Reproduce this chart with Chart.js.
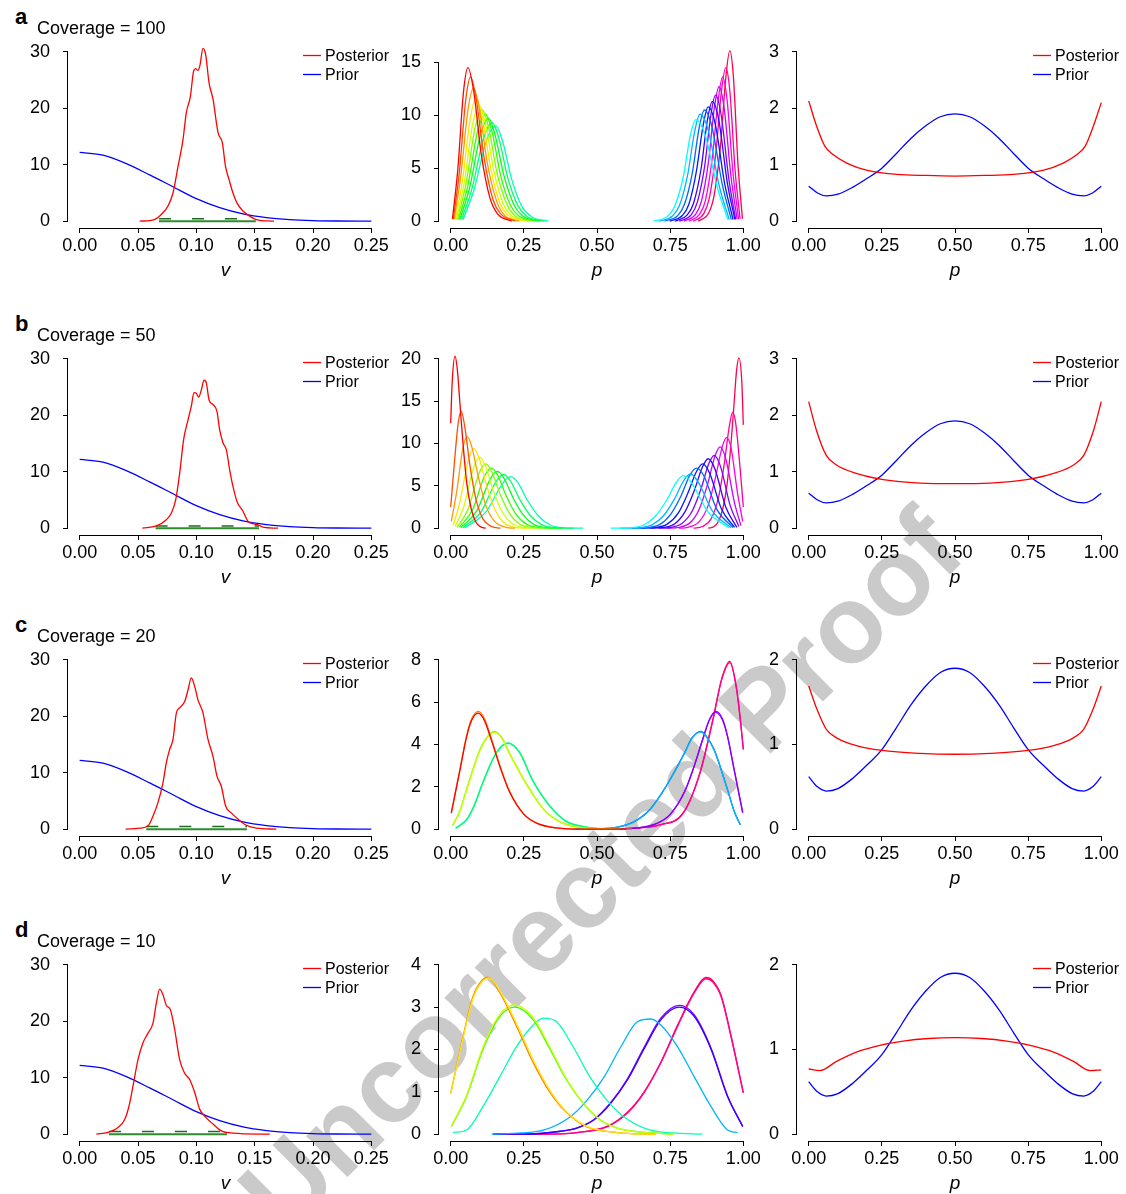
<!DOCTYPE html>
<html>
<head>
<meta charset="utf-8">
<script src="https://cdn.jsdelivr.net/npm/chart.js@4.4.1/dist/chart.umd.min.js"></script>
<style>
  html, body { margin: 0; background: #fff; }
  #fig { position: relative; width: 1126px; height: 1194px; overflow: hidden; font-family: "Liberation Sans", Arial, sans-serif; color: #000; }
  #fig canvas { position: absolute; z-index: 1; }
  .txt { position: absolute; z-index: 2; white-space: nowrap; }
  .letter { font-weight: bold; font-size: 22px; line-height: 22px; }
  .cov { font-size: 18px; line-height: 22px; }
  .lgt { font-size: 16px; line-height: 20px; }
  #proof { position: absolute; z-index: 0; left: 600px; top: 870px; transform: translate(-50%, -50%) rotate(-45deg);
           font: bold 110px "Liberation Sans", Arial, sans-serif; color: #cacaca; white-space: nowrap; }
</style>
</head>
<body>
<div id="fig"><div id="proof">Uncorrected Proof</div></div>
<script>
// ---- DATA ----
const letters = ['a', 'b', 'c', 'd'];
const coverages = [100, 50, 20, 10];
const seriesNames = ['Posterior', 'Prior'];

const vTicks = [0, 0.05, 0.1, 0.15, 0.2, 0.25];
const pTicks = [0, 0.25, 0.5, 0.75, 1];
const yTicksLeft = [0, 10, 20, 30];
const yTicksMid = [[0, 5, 10, 15], [0, 5, 10, 15, 20], [0, 2, 4, 6, 8], [0, 1, 2, 3, 4]];
const yTicksRight = [[0, 1, 2, 3], [0, 1, 2, 3], [0, 1, 2], [0, 1, 2]];
const yTopLeft = [30, 30, 30, 30];
const yTopMid = [16, 20, 8, 4];
const yTopRight = [3, 3, 2, 2];

// prior on v (same in every row)
const priorV = [[0,12.2],[.02,11.7],[.04,10.2],[.06,8.2],[.08,6.1],[.1,4.0],[.12,2.4],[.14,1.3],[.16,.65],[.18,.3],[.2,.12],[.22,.04],[.25,.01]];

// posterior on v, one per coverage
const postV_a = [[.0514,0],[.064,.3],[.0714,1.5],[.0757,2.7],[.08,5.0],[.0843,9.7],[.0886,14.5],[.0914,19.2],[.0949,22.1],[.0977,26.6],[.0994,27.0],[.1014,26.7],[.103,27.5],[.1057,30.6],[.108,29.5],[.1109,24.5],[.1143,21.6],[.1186,15.7],[.1223,13.9],[.125,9.7],[.128,7.4],[.1314,5.0],[.1349,3.2],[.14,1.8],[.1457,.9],[.1514,.3],[.1666,0]];
const postV_b = [[.0537,0],[.0657,.4],[.0743,1.5],[.0786,2.7],[.0823,5.0],[.0857,9.7],[.0891,15.7],[.0929,19.2],[.0957,21.6],[.098,24.0],[.1,23.9],[.102,23.2],[.1043,24.5],[.1066,26.2],[.1086,25.7],[.1109,22.7],[.1143,21.9],[.1177,20.7],[.12,17.4],[.1229,15.1],[.1257,13.9],[.1286,10.3],[.1314,7.4],[.1349,4.7],[.14,3.0],[.1443,1.2],[.1486,.8],[.1529,.6],[.157,.2],[.17,0]];
const postV_c = [[.0394,0],[.0514,.18],[.0586,.6],[.0629,2.35],[.0671,4.7],[.0714,8.2],[.0743,11.8],[.0771,14.1],[.08,15.9],[.0829,20.6],[.0857,21.5],[.09,22.6],[.0929,24.7],[.0957,26.8],[.0986,25.3],[.1014,22.9],[.1057,20.6],[.11,15.9],[.1143,12.9],[.1177,9.4],[.1214,7.6],[.1251,4.1],[.13,2.9],[.1357,1.8],[.1429,.7],[.1514,.2],[.1686,0]];
const postV_d = [[.0143,0],[.0257,.4],[.0329,1.2],[.0386,2.6],[.0423,5.0],[.0457,8.5],[.05,13.2],[.0543,16.2],[.0586,17.9],[.0629,19.7],[.0657,23.2],[.0686,25.7],[.0714,24.7],[.0743,22.8],[.0777,22.1],[.0814,18.6],[.0857,13.2],[.09,10.8],[.0943,9.7],[.0986,7.4],[.1029,4.4],[.1086,2.9],[.1143,1.8],[.1214,.6],[.1314,.2],[.163,0]];

// credible interval on v (ends) and height of the dashed bar
const intervalV = [[.068, .151], [.0651, .1537], [.0571, .1434], [.0251, .1263]];
const dashY = [.45, .4, .5, .5];

// prior on p (same in every row)
const priorP = [[0,.62],[.03,.5],[.06,.45],[.1,.48],[.15,.6],[.2,.76],[.25,.94],[.3,1.2],[.35,1.47],[.4,1.69],[.45,1.85],[.5,1.9],[.55,1.85],[.6,1.69],[.65,1.47],[.7,1.2],[.75,.94],[.8,.76],[.85,.6],[.9,.48],[.94,.45],[.97,.5],[1,.62]];

// posterior on p, one per coverage
const postP_a = [[0,2.13],[.026,1.7],[.055,1.33],[.083,1.18],[.13,1.03],[.2,.9],[.3,.83],[.4,.81],[.5,.8],[.6,.81],[.7,.83],[.8,.9],[.87,1.03],[.917,1.18],[.945,1.33],[.974,1.7],[1,2.1]];
const postP_b = [[0,2.24],[.026,1.74],[.06,1.29],[.095,1.12],[.163,.97],[.255,.86],[.38,.8],[.5,.79],[.62,.8],[.745,.86],[.837,.97],[.905,1.12],[.94,1.29],[.974,1.74],[1,2.24]];
const postP_c = [[0,1.69],[.03,1.4],[.06,1.18],[.1,1.07],[.16,.99],[.25,.93],[.38,.895],[.5,.885],[.62,.895],[.75,.93],[.84,.99],[.9,1.07],[.94,1.18],[.97,1.4],[1,1.69]];
const postP_d = [[0,.77],[.038,.75],[.095,.86],[.163,.97],[.243,1.05],[.323,1.1],[.41,1.13],[.5,1.14],[.59,1.13],[.677,1.1],[.757,1.05],[.837,.97],[.905,.86],[.962,.75],[1,.76]];

// per-locus posteriors of p, coverage 100
const lociA = [
  [[.006,.22],[.024,4.8],[.044,12.3],[.059,14.5],[.079,12.2],[.104,6.4],[.134,2.2],[.16,.7],[.209,0]],
  [[.009,.2],[.029,4.5],[.052,11.6],[.068,13.6],[.088,11.4],[.114,6.0],[.145,2.0],[.171,.7],[.221,0]],
  [[.012,.19],[.034,4.2],[.06,10.7],[.078,12.6],[.098,10.6],[.125,5.5],[.157,1.9],[.183,.6],[.235,0]],
  [[.016,.17],[.04,3.8],[.068,9.9],[.088,11.6],[.109,9.7],[.136,5.1],[.168,1.7],[.195,.6],[.248,0]],
  [[.019,.16],[.046,3.6],[.076,9.3],[.098,10.9],[.119,9.2],[.147,4.8],[.18,1.6],[.207,.55],[.261,0]],
  [[.023,.16],[.052,3.5],[.084,8.9],[.108,10.5],[.13,8.8],[.158,4.6],[.192,1.6],[.22,.5],[.275,0]],
  [[.027,.15],[.058,3.3],[.093,8.6],[.119,10.1],[.141,8.5],[.17,4.4],[.204,1.5],[.233,.5],[.289,0]],
  [[.031,.15],[.065,3.2],[.102,8.2],[.13,9.7],[.152,8.1],[.182,4.3],[.217,1.5],[.246,.5],[.303,0]],
  [[.037,.14],[.073,3.1],[.113,7.9],[.142,9.3],[.165,7.8],[.195,4.1],[.231,1.4],[.261,.45],[.319,0]],
  [[.042,.14],[.08,3.0],[.123,7.7],[.154,9.0],[.177,7.6],[.208,4.0],[.244,1.35],[.275,.45],[.334,0]],
  [[.694,0],[.742,.48],[.766,1.44],[.795,4.2],[.819,8.1],[.838,9.6],[.869,8.2],[.911,3.2],[.948,.14]],
  [[.712,0],[.758,.5],[.782,1.5],[.81,4.4],[.834,8.5],[.852,10.1],[.88,8.6],[.918,3.3],[.952,.15]],
  [[.731,0],[.776,.53],[.799,1.6],[.826,4.6],[.849,8.8],[.867,10.5],[.893,8.9],[.928,3.5],[.959,.16]],
  [[.748,0],[.792,.54],[.814,1.6],[.84,4.75],[.863,9.1],[.88,10.8],[.904,9.2],[.936,3.6],[.965,.16]],
  [[.766,0],[.808,.57],[.83,1.7],[.856,5.0],[.877,9.5],[.894,11.3],[.916,9.6],[.945,3.7],[.971,.17]],
  [[.781,0],[.822,.6],[.843,1.8],[.868,5.2],[.889,10.0],[.905,11.9],[.924,10.1],[.951,3.9],[.974,.18]],
  [[.797,0],[.837,.64],[.857,1.9],[.881,5.6],[.901,10.7],[.917,12.7],[.934,10.8],[.958,4.2],[.979,.19]],
  [[.813,0],[.851,.68],[.871,2.0],[.894,6.0],[.914,11.4],[.929,13.6],[.944,11.6],[.965,4.5],[.984,.2]],
  [[.828,0],[.865,.72],[.884,2.2],[.906,6.4],[.925,12.2],[.94,14.5],[.954,12.3],[.972,4.8],[.989,.22]],
  [[.846,0],[.882,.8],[.9,2.4],[.922,7.1],[.94,13.5],[.954,16.1],[.966,13.7],[.982,5.3],[.997,.24]]
];

// coverage 50
const lociB = [
  [[0,12.4],[.005,17.2],[.015,20.3],[.023,18.6],[.032,14.5],[.042,10],[.055,5.3],[.07,2.3],[.085,.8],[.1,.2],[.12,0]],
  [[0,2.5],[.012,7.5],[.026,12.5],[.036,13.8],[.048,12],[.065,7.6],[.085,3.6],[.11,1.1],[.14,.2],[.17,0]],
  [[.002,.8],[.02,4.2],[.042,9.5],[.057,10.8],[.072,9.6],[.095,6],[.12,2.7],[.15,.8],[.19,.1],[.22,0]],
  [[.008,.3],[.03,2.9],[.06,8],[.079,9.4],[.097,8.3],[.122,5.1],[.15,2.3],[.18,.7],[.22,.1],[.26,0]],
  [[.015,.2],[.045,2.6],[.078,7.1],[.099,8.4],[.118,7.4],[.145,4.5],[.175,2],[.21,.55],[.25,.08],[.29,0]],
  [[.022,.1],[.06,2.3],[.097,6.5],[.12,7.6],[.14,6.7],[.168,4.1],[.2,1.8],[.235,.5],[.28,.07],[.32,0]],
  [[.03,.1],[.075,2.2],[.115,6.1],[.139,7.1],[.16,6.3],[.19,3.8],[.222,1.7],[.26,.45],[.305,.06],[.35,0]],
  [[.035,.08],[.09,2.1],[.135,5.8],[.16,6.7],[.182,5.9],[.213,3.6],[.247,1.6],[.285,.42],[.33,.05],[.38,0]],
  [[.042,.06],[.105,2],[.155,5.5],[.181,6.35],[.204,5.6],[.236,3.4],[.272,1.5],[.312,.4],[.36,.05],[.42,0]],
  [[.048,.05],[.12,1.9],[.178,5.3],[.205,6.1],[.229,5.4],[.262,3.3],[.3,1.45],[.34,.38],[.39,.05],[.453,0]],
  [[.547,0],[.61,.05],[.66,.38],[.7,1.45],[.738,3.3],[.771,5.4],[.795,6.2],[.822,5.4],[.88,1.9],[.952,.05]],
  [[.58,0],[.64,.05],[.688,.4],[.728,1.5],[.764,3.4],[.796,5.6],[.819,6.4],[.845,5.5],[.895,2],[.958,.06]],
  [[.62,0],[.67,.05],[.715,.45],[.753,1.7],[.787,3.8],[.818,6.3],[.84,7.1],[.865,6.2],[.91,2.2],[.965,.08]],
  [[.65,0],[.695,.06],[.74,.48],[.778,1.8],[.81,4.1],[.84,6.7],[.861,7.6],[.885,6.5],[.925,2.3],[.97,.1]],
  [[.68,0],[.72,.07],[.765,.5],[.8,1.9],[.832,4.4],[.86,7.2],[.88,8.2],[.903,7],[.94,2.5],[.978,.1]],
  [[.71,0],[.75,.08],[.79,.55],[.825,2],[.855,4.6],[.882,7.6],[.901,8.6],[.922,7.3],[.955,2.7],[.985,.2]],
  [[.74,0],[.78,.1],[.82,.7],[.85,2.3],[.878,5.2],[.903,8.5],[.921,9.6],[.94,8.2],[.97,3],[.992,.3]],
  [[.78,0],[.81,.1],[.85,.8],[.88,2.7],[.905,6],[.928,9.6],[.943,10.7],[.958,9.5],[.98,4.2],[.998,.8]],
  [[.83,0],[.86,.2],[.89,1.1],[.915,3.6],[.935,7.6],[.952,12],[.964,13.7],[.974,12.4],[.988,7.5],[1,2.5]],
  [[.88,0],[.9,.2],[.915,.8],[.93,2.3],[.945,5.3],[.958,10],[.968,14.5],[.977,18.6],[.985,20.1],[.995,17.2],[1,12.2]]
];

// coverage 20 (loci overlap in groups)
const lociC = [
  [[.002,.76],[.031,2.74],[.054,4.34],[.071,5.12],[.094,5.48],[.115,5.14],[.14,4.16],[.17,2.88],[.2,1.79],[.25,.7],[.3,.25],[.36,.06],[.45,0],[.6,0]],
  [[.002,.79],[.031,2.8],[.054,4.4],[.071,5.2],[.095,5.56],[.116,5.2],[.141,4.2],[.171,2.9],[.201,1.8],[.251,.7],[.3,.25],[.36,.06],[.45,0],[.62,0]],
  [[.006,.16],[.03,.78],[.054,1.82],[.1,3.72],[.128,4.37],[.15,4.57],[.175,4.28],[.2,3.58],[.26,2.08],[.32,.89],[.373,.35],[.43,.1],[.5,.02],[.56,0]],
  [[.006,.17],[.03,.82],[.054,1.88],[.1,3.78],[.128,4.42],[.15,4.62],[.175,4.32],[.2,3.62],[.26,2.12],[.32,.91],[.373,.36],[.43,.1],[.5,.02],[.58,0]],
  [[.017,.05],[.054,.44],[.08,1.1],[.11,2.2],[.156,3.6],[.196,4.06],[.236,3.6],[.28,2.3],[.34,1.07],[.396,.36],[.464,.1],[.52,.02],[.58,0]],
  [[.017,.05],[.054,.45],[.08,1.12],[.11,2.22],[.156,3.62],[.196,4.08],[.236,3.62],[.28,2.32],[.34,1.08],[.396,.37],[.464,.1],[.52,.02],[.57,0]],
  [[.42,0],[.5,.02],[.57,.1],[.627,.35],[.68,.9],[.74,2.1],[.8,3.6],[.825,4.3],[.855,4.6],[.872,4.4],[.9,3.75],[.946,1.86],[.97,.8],[.99,.2]],
  [[.43,0],[.5,.02],[.57,.1],[.627,.36],[.68,.92],[.74,2.12],[.8,3.63],[.825,4.32],[.855,4.62],[.872,4.42],[.9,3.77],[.946,1.87],[.97,.81],[.99,.21]],
  [[.43,0],[.55,0],[.64,.06],[.7,.25],[.75,.7],[.8,1.8],[.83,2.9],[.86,4.2],[.885,5.2],[.906,5.56],[.929,5.2],[.946,4.4],[.969,2.8],[.998,.79]],
  [[.43,0],[.55,0],[.64,.06],[.7,.24],[.75,.69],[.8,1.78],[.83,2.88],[.86,4.18],[.885,5.18],[.905,5.52],[.928,5.18],[.946,4.38],[.969,2.78],[.998,.77]],
  [[.5,0],[.624,.05],[.715,.2],[.795,.76],[.852,2.65],[.897,5.2],[.926,7.05],[.954,7.87],[.977,6.6],[.991,5],[1,3.75]],
  [[.5,0],[.624,.05],[.715,.21],[.795,.78],[.852,2.68],[.897,5.25],[.926,7.1],[.954,7.92],[.977,6.65],[.991,5.05],[1,3.8]]
];

// coverage 10
const lociD = [
  [[0,.95],[.042,2.27],[.077,3.22],[.107,3.6],[.131,3.69],[.172,3.33],[.23,2.54],[.287,1.68],[.345,.97],[.4,.5],[.468,.18],[.57,.04],[.7,0]],
  [[0,.97],[.042,2.3],[.076,3.25],[.105,3.62],[.128,3.71],[.168,3.34],[.225,2.55],[.282,1.69],[.34,.98],[.396,.51],[.464,.18],[.567,.04],[.7,0]],
  [[.002,.19],[.054,.92],[.11,2.05],[.168,2.83],[.219,3.05],[.282,2.75],[.34,2.04],[.396,1.3],[.453,.74],[.51,.35],[.567,.15],[.624,.07],[.76,0]],
  [[.002,.18],[.054,.89],[.11,2.0],[.168,2.78],[.219,3.0],[.282,2.7],[.34,2.0],[.396,1.28],[.453,.73],[.51,.34],[.567,.15],[.624,.07],[.76,0]],
  [[.008,.04],[.054,.1],[.11,.65],[.168,1.36],[.225,2.07],[.282,2.58],[.316,2.74],[.361,2.66],[.418,2.07],[.475,1.36],[.533,.81],[.59,.42],[.68,.1],[.76,.03],[.86,0]],
  [[.14,0],[.24,.03],[.32,.1],[.41,.42],[.467,.81],[.525,1.36],[.582,2.07],[.639,2.66],[.684,2.72],[.718,2.58],[.775,2.07],[.832,1.36],[.89,.65],[.946,.1],[.98,.04]],
  [[.145,0],[.24,0],[.376,.07],[.433,.15],[.49,.34],[.547,.73],[.604,1.28],[.66,2.0],[.718,2.7],[.781,3.0],[.832,2.78],[.89,2.0],[.946,.89],[.998,.18]],
  [[.145,0],[.24,0],[.376,.07],[.433,.15],[.49,.35],[.547,.75],[.604,1.31],[.66,2.04],[.718,2.74],[.781,3.04],[.832,2.82],[.89,2.03],[.946,.91],[.998,.19]],
  [[.156,0],[.3,0],[.433,.04],[.536,.18],[.604,.5],[.66,.97],[.718,1.68],[.775,2.54],[.832,3.33],[.872,3.67],[.895,3.6],[.924,3.25],[.958,2.3],[1,.97]],
  [[.156,0],[.3,0],[.433,.04],[.536,.19],[.604,.52],[.66,.99],[.718,1.7],[.775,2.57],[.832,3.36],[.872,3.7],[.895,3.63],[.924,3.28],[.958,2.33],[1,.99]]
];

// ---- STYLE ----
const rainbow20 = ['#FF0000','#FF4D00','#FF9900','#FFE500','#CCFF00','#80FF00','#33FF00','#00FF1A','#00FF66','#00FFB3',
                   '#00FFFF','#00B3FF','#0066FF','#001AFF','#3300FF','#8000FF','#CC00FF','#FF00E6','#FF0099','#FF004D'];
const colorsC = ['#FF0000','#FF8000','#CCFF00','#80FF00','#00FF66','#00FFB3','#00B3FF','#0066FF','#8000FF','#CC00FF','#FF0099','#FF004D'];
const colorsD = ['#FFE500','#FF8000','#CCFF00','#33FF00','#00FFB3','#00B3FF','#3300FF','#8000FF','#FF0099','#FF004D'];
const RED = '#ff0000', BLUE = '#0000ff', GREEN = '#2e8b2e';

const colLeft = [68, 439, 797];
const colWidth = [315, 316, 316];
const rowTop = [45, 352, 653, 958];
const plotH = 183;

Chart.defaults.font.family = '"Liberation Sans", Arial, sans-serif';
Chart.defaults.color = '#000';

const fig = document.getElementById('fig');

// R-style axes: line only from first to last tick; optional legend keys
const rAxes = {
  id: 'rAxes',
  afterDraw(chart, args, opts) {
    const {ctx, chartArea: a, scales: {x, y}} = chart;
    const xt = x.ticks, yt = y.ticks;
    ctx.save();
    ctx.strokeStyle = '#000';
    ctx.lineWidth = 1;
    ctx.beginPath();
    ctx.moveTo(x.getPixelForValue(xt[0].value), a.bottom + 0.5);
    ctx.lineTo(x.getPixelForValue(xt[xt.length - 1].value), a.bottom + 0.5);
    ctx.moveTo(a.left - 0.5, y.getPixelForValue(yt[0].value));
    ctx.lineTo(a.left - 0.5, y.getPixelForValue(yt[yt.length - 1].value));
    ctx.stroke();
    if (opts.legend) {
      ctx.lineWidth = 1.3;
      [[RED, 10.5], [BLUE, 29.5]].forEach(([c, dy]) => {
        ctx.strokeStyle = c;
        ctx.beginPath();
        ctx.moveTo(a.right - 80, a.top + dy);
        ctx.lineTo(a.right - 62, a.top + dy);
        ctx.stroke();
      });
    }
    ctx.restore();
  }
};

function line(pts, color, width, dash) {
  return {
    data: pts.map(([x, y]) => ({x, y})),
    borderColor: color,
    borderWidth: width || 1.3,
    borderDash: dash || [],
    pointRadius: 0,
    fill: false,
    cubicInterpolationMode: 'monotone'
  };
}

function axis(lo, hi, ticks, digits, extra) {
  return Object.assign({
    type: 'linear',
    min: lo - 0.04 * (hi - lo),
    max: hi + 0.04 * (hi - lo),
    afterBuildTicks: s => { s.ticks = ticks.map(v => ({value: v})); },
    grid: {display: true, drawOnChartArea: false, drawTicks: true, tickLength: 5, color: '#000', tickColor: '#000', lineWidth: 1},
    border: {display: false},
    ticks: {font: {size: 18}, color: '#000', autoSkip: false, maxRotation: 0, callback: v => v.toFixed(digits)}
  }, extra);
}

function panel(col, row, xr, xTicks, xDigits, xTitle, yTop, yTicks, datasets, withLegend) {
  const w = colWidth[col], h = plotH;
  const cv = document.createElement('canvas');
  cv.width = w + 72; cv.height = h + 70;
  cv.style.left = (colLeft[col] - 60) + 'px';
  cv.style.top = (rowTop[row] - 12) + 'px';
  fig.appendChild(cv);
  const xAxis = axis(xr[0], xr[1], xTicks, xDigits, {
    afterFit: s => { s.height = 58; s.paddingLeft = 0; s.paddingRight = 0; },
    title: {display: true, text: xTitle, font: {size: 19, style: 'italic'}, color: '#000', padding: {top: 0, bottom: 4}}
  });
  xAxis.ticks.padding = 2;
  const yAxis = axis(0, yTop, yTicks, 0, {afterFit: s => { s.width = 60; s.paddingTop = 0; s.paddingBottom = 0; }});
  yAxis.ticks.padding = 13;
  new Chart(cv, {
    type: 'line',
    data: {datasets},
    options: {
      responsive: false,
      animation: false,
      events: [],
      layout: {padding: {left: 0, top: 12, right: 12, bottom: 0}},
      plugins: {legend: {display: false}, tooltip: {enabled: false}, rAxes: {legend: !!withLegend}},
      scales: {x: xAxis, y: yAxis}
    },
    plugins: [rAxes]
  });
  if (withLegend) {
    const right = colLeft[col] + w;
    text('lgt', seriesNames[0], right - 58, rowTop[row] + 0.5);
    text('lgt', seriesNames[1], right - 58, rowTop[row] + 19.5);
  }
}

function text(cls, str, left, top) {
  const d = document.createElement('div');
  d.className = 'txt ' + cls;
  d.textContent = str;
  d.style.left = left + 'px';
  d.style.top = top + 'px';
  fig.appendChild(d);
}

const postV = [postV_a, postV_b, postV_c, postV_d];
const postP = [postP_a, postP_b, postP_c, postP_d];
const loci = [lociA, lociB, lociC, lociD];
const lociColors = [rainbow20, rainbow20, colorsC, colorsD];

for (let r = 0; r < 4; r++) {
  text('letter', letters[r], 15, rowTop[r] - 39);
  text('cov', 'Coverage = ' + coverages[r], 37, rowTop[r] - 28.5);

  const iv = intervalV[r];
  panel(0, r, [0, 0.25], vTicks, 2, 'v', yTopLeft[r], yTicksLeft, [
    line(postV[r], RED),
    line(priorV, BLUE),
    line([[iv[0], 0], [iv[1], 0]], GREEN, 2),
    line([[iv[0], dashY[r]], [iv[1], dashY[r]]], '#1f6b1f', 1.5, [12, 21])
  ], true);

  panel(1, r, [0, 1], pTicks, 2, 'p', yTopMid[r], yTicksMid[r],
    loci[r].map((pts, i) => line(pts, lociColors[r][i])), false);

  panel(2, r, [0, 1], pTicks, 2, 'p', yTopRight[r], yTicksRight[r], [
    line(postP[r], RED),
    line(priorP, BLUE)
  ], true);
}
</script>
</body>
</html>
